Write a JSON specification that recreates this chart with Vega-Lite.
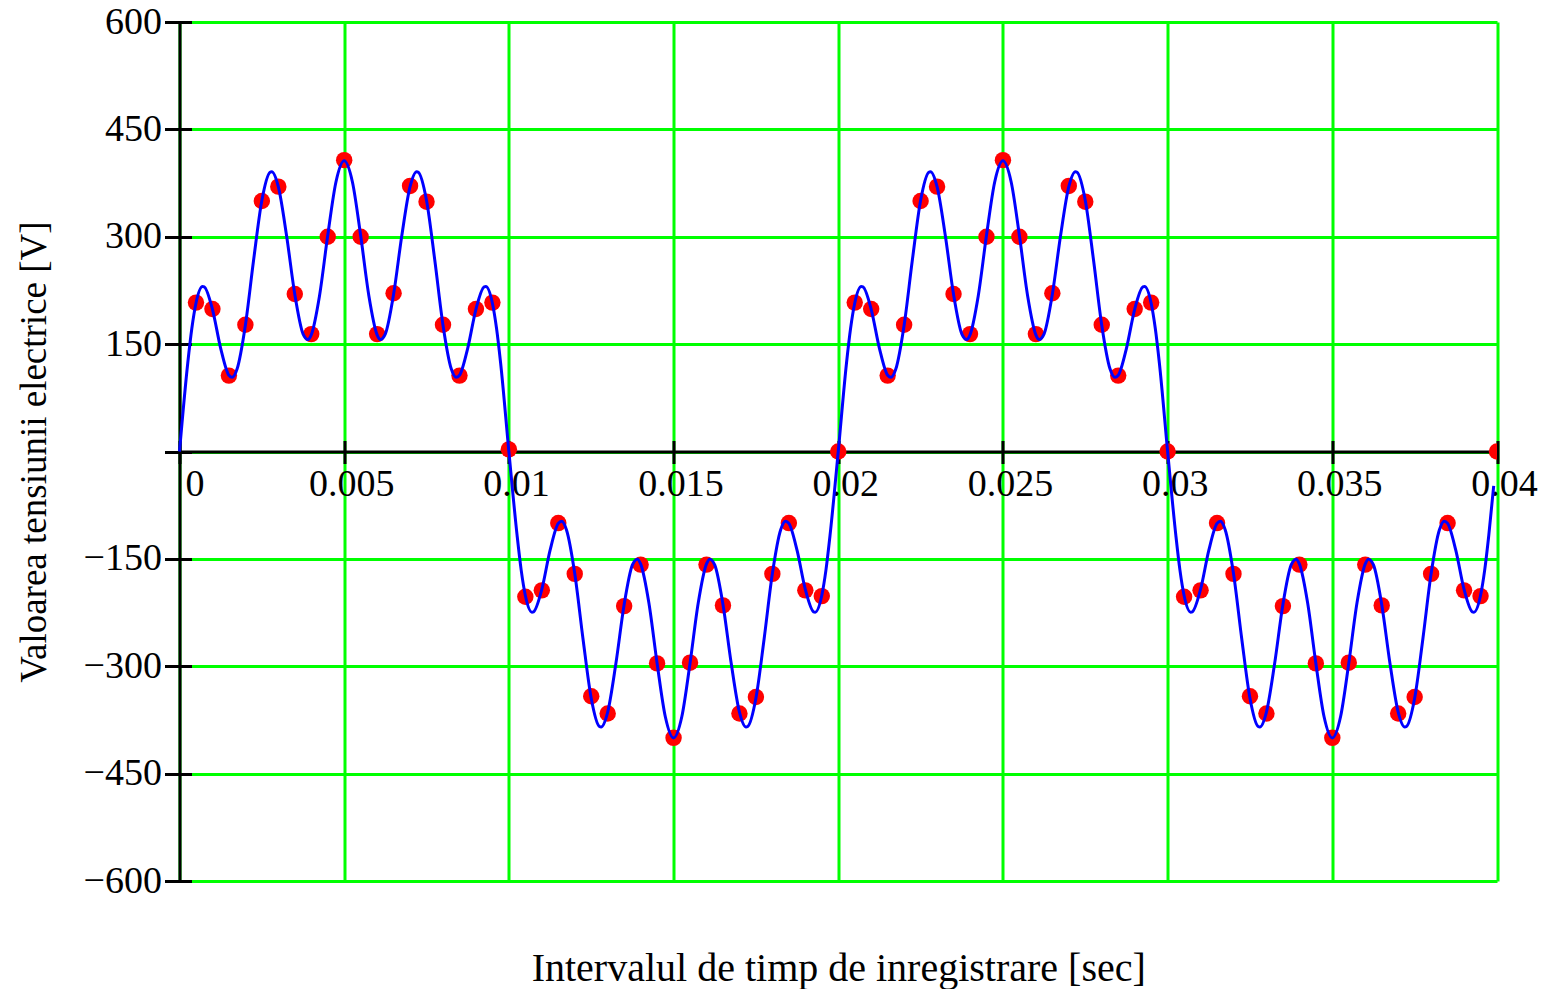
{
  "$schema": "https://vega.github.io/schema/vega-lite/v6.json",
  "autosize": {"type": "none"},
  "width": 1317.5,
  "height": 859,
  "padding": {"left": 179.5, "top": 22, "right": 53, "bottom": 108},
  "background": "white",
  "config": {
    "view": {"stroke": null},
    "axis": {
      "labelFont": "Liberation Serif",
      "titleFont": "Liberation Serif",
      "labelColor": "black",
      "titleColor": "black",
      "titleFontWeight": "normal",
      "domainColor": "black",
      "tickColor": "black",
      "gridColor": "#00FF00"
    }
  },
  "datasets": {
    "samples": [
      {"t":0.0005,"u":208},{"t":0.001,"u":199},{"t":0.0015,"u":106},{"t":0.002,"u":177},{"t":0.0025,"u":350},
      {"t":0.003,"u":370},{"t":0.0035,"u":220},{"t":0.004,"u":164},{"t":0.0045,"u":300},{"t":0.005,"u":407},
      {"t":0.0055,"u":300},{"t":0.006,"u":164},{"t":0.0065,"u":221},{"t":0.007,"u":371},{"t":0.0075,"u":349},
      {"t":0.008,"u":177},{"t":0.0085,"u":106},{"t":0.009,"u":199},{"t":0.0095,"u":208},{"t":0.01,"u":3},
      {"t":0.0105,"u":-203},{"t":0.011,"u":-194},{"t":0.0115,"u":-100},{"t":0.012,"u":-171},{"t":0.0125,"u":-342},
      {"t":0.013,"u":-366},{"t":0.0135,"u":-216},{"t":0.014,"u":-158},{"t":0.0145,"u":-296},{"t":0.015,"u":-400},
      {"t":0.0155,"u":-295},{"t":0.016,"u":-158},{"t":0.0165,"u":-215},{"t":0.017,"u":-366},{"t":0.0175,"u":-343},
      {"t":0.018,"u":-171},{"t":0.0185,"u":-100},{"t":0.019,"u":-194},{"t":0.0195,"u":-202},{"t":0.02,"u":0},
      {"t":0.0205,"u":208},{"t":0.021,"u":199},{"t":0.0215,"u":106},{"t":0.022,"u":177},{"t":0.0225,"u":350},
      {"t":0.023,"u":370},{"t":0.0235,"u":220},{"t":0.024,"u":164},{"t":0.0245,"u":300},{"t":0.025,"u":407},
      {"t":0.0255,"u":300},{"t":0.026,"u":164},{"t":0.0265,"u":221},{"t":0.027,"u":371},{"t":0.0275,"u":349},
      {"t":0.028,"u":177},{"t":0.0285,"u":106},{"t":0.029,"u":199},{"t":0.0295,"u":208},{"t":0.03,"u":0},
      {"t":0.0305,"u":-203},{"t":0.031,"u":-194},{"t":0.0315,"u":-100},{"t":0.032,"u":-171},{"t":0.0325,"u":-342},
      {"t":0.033,"u":-366},{"t":0.0335,"u":-216},{"t":0.034,"u":-158},{"t":0.0345,"u":-296},{"t":0.035,"u":-400},
      {"t":0.0355,"u":-295},{"t":0.036,"u":-158},{"t":0.0365,"u":-215},{"t":0.037,"u":-366},{"t":0.0375,"u":-343},
      {"t":0.038,"u":-171},{"t":0.0385,"u":-100},{"t":0.039,"u":-194},{"t":0.0395,"u":-202},{"t":0.04,"u":0}
    ],
    "curve": [
      {"t":0,"u":0},{"t":0.00025,"u":123.3},{"t":0.000375,"u":172.1},{"t":0.0005,"u":207.1},{"t":0.0007,"u":230.4},
      {"t":0.00075,"u":229.9},{"t":0.001,"u":198.7},{"t":0.00125,"u":144.2},{"t":0.0015,"u":106.5},{"t":0.0016,"u":103.6},
      {"t":0.00175,"u":115.6},{"t":0.002,"u":176.5},{"t":0.00225,"u":267.5},{"t":0.0025,"u":350.7},{"t":0.00275,"u":390.2},
      {"t":0.0028,"u":390.9},{"t":0.003,"u":370.0},{"t":0.00325,"u":301.8},{"t":0.0035,"u":219.7},{"t":0.00375,"u":164.4},
      {"t":0.0039,"u":156.4},{"t":0.004,"u":163.0},{"t":0.00425,"u":217.3},{"t":0.0045,"u":301.7},{"t":0.00475,"u":376.5},
      {"t":0.005,"u":406.1},{"t":0.00525,"u":376.5},{"t":0.0055,"u":301.7},{"t":0.00575,"u":217.3},{"t":0.006,"u":163.0},
      {"t":0.0061,"u":156.4},{"t":0.00625,"u":164.4},{"t":0.0065,"u":219.7},{"t":0.00675,"u":301.8},{"t":0.007,"u":370.0},
      {"t":0.0072,"u":390.9},{"t":0.00725,"u":390.2},{"t":0.0075,"u":350.7},{"t":0.00775,"u":267.5},{"t":0.008,"u":176.5},
      {"t":0.00825,"u":115.6},{"t":0.0084,"u":103.6},{"t":0.0085,"u":106.5},{"t":0.00875,"u":144.2},{"t":0.009,"u":198.7},
      {"t":0.00925,"u":229.9},{"t":0.0093,"u":230.4},{"t":0.0095,"u":207.1},{"t":0.009625,"u":172.1},{"t":0.00975,"u":123.3},
      {"t":0.01,"u":0},
      {"t":0.01025,"u":-117.3},{"t":0.010375,"u":-166.1},{"t":0.0105,"u":-201.1},{"t":0.0107,"u":-224.4},{"t":0.01075,"u":-223.9},
      {"t":0.011,"u":-192.7},{"t":0.01125,"u":-138.2},{"t":0.0115,"u":-100.5},{"t":0.0116,"u":-97.6},{"t":0.01175,"u":-109.6},
      {"t":0.012,"u":-170.5},{"t":0.01225,"u":-261.5},{"t":0.0125,"u":-344.7},{"t":0.01275,"u":-384.2},{"t":0.0128,"u":-384.9},
      {"t":0.013,"u":-364.0},{"t":0.01325,"u":-295.8},{"t":0.0135,"u":-213.7},{"t":0.01375,"u":-158.4},{"t":0.0139,"u":-150.4},
      {"t":0.014,"u":-157.0},{"t":0.01425,"u":-211.3},{"t":0.0145,"u":-295.7},{"t":0.01475,"u":-370.5},{"t":0.015,"u":-400.1},
      {"t":0.01525,"u":-370.5},{"t":0.0155,"u":-295.7},{"t":0.01575,"u":-211.3},{"t":0.016,"u":-157.0},{"t":0.0161,"u":-150.4},
      {"t":0.01625,"u":-158.4},{"t":0.0165,"u":-213.7},{"t":0.01675,"u":-295.8},{"t":0.017,"u":-364.0},{"t":0.0172,"u":-384.9},
      {"t":0.01725,"u":-384.2},{"t":0.0175,"u":-344.7},{"t":0.01775,"u":-261.5},{"t":0.018,"u":-170.5},{"t":0.01825,"u":-109.6},
      {"t":0.0184,"u":-97.6},{"t":0.0185,"u":-100.5},{"t":0.01875,"u":-138.2},{"t":0.019,"u":-192.7},{"t":0.01925,"u":-223.9},
      {"t":0.0193,"u":-224.4},{"t":0.0195,"u":-201.1},{"t":0.019625,"u":-166.1},{"t":0.01975,"u":-117.3},{"t":0.02,"u":0},
      {"t":0.02025,"u":123.3},{"t":0.020375,"u":172.1},{"t":0.0205,"u":207.1},{"t":0.0207,"u":230.4},
      {"t":0.02075,"u":229.9},{"t":0.021,"u":198.7},{"t":0.02125,"u":144.2},{"t":0.0215,"u":106.5},{"t":0.0216,"u":103.6},
      {"t":0.02175,"u":115.6},{"t":0.022,"u":176.5},{"t":0.02225,"u":267.5},{"t":0.0225,"u":350.7},{"t":0.02275,"u":390.2},
      {"t":0.0228,"u":390.9},{"t":0.023,"u":370.0},{"t":0.02325,"u":301.8},{"t":0.0235,"u":219.7},{"t":0.02375,"u":164.4},
      {"t":0.0239,"u":156.4},{"t":0.024,"u":163.0},{"t":0.02425,"u":217.3},{"t":0.0245,"u":301.7},{"t":0.02475,"u":376.5},
      {"t":0.025,"u":406.1},{"t":0.02525,"u":376.5},{"t":0.0255,"u":301.7},{"t":0.02575,"u":217.3},{"t":0.026,"u":163.0},
      {"t":0.0261,"u":156.4},{"t":0.02625,"u":164.4},{"t":0.0265,"u":219.7},{"t":0.02675,"u":301.8},{"t":0.027,"u":370.0},
      {"t":0.0272,"u":390.9},{"t":0.02725,"u":390.2},{"t":0.0275,"u":350.7},{"t":0.02775,"u":267.5},{"t":0.028,"u":176.5},
      {"t":0.02825,"u":115.6},{"t":0.0284,"u":103.6},{"t":0.0285,"u":106.5},{"t":0.02875,"u":144.2},{"t":0.029,"u":198.7},
      {"t":0.02925,"u":229.9},{"t":0.0293,"u":230.4},{"t":0.0295,"u":207.1},{"t":0.029625,"u":172.1},{"t":0.02975,"u":123.3},
      {"t":0.03,"u":0},
      {"t":0.03025,"u":-117.3},{"t":0.030375,"u":-166.1},{"t":0.0305,"u":-201.1},{"t":0.0307,"u":-224.4},{"t":0.03075,"u":-223.9},
      {"t":0.031,"u":-192.7},{"t":0.03125,"u":-138.2},{"t":0.0315,"u":-100.5},{"t":0.0316,"u":-97.6},{"t":0.03175,"u":-109.6},
      {"t":0.032,"u":-170.5},{"t":0.03225,"u":-261.5},{"t":0.0325,"u":-344.7},{"t":0.03275,"u":-384.2},{"t":0.0328,"u":-384.9},
      {"t":0.033,"u":-364.0},{"t":0.03325,"u":-295.8},{"t":0.0335,"u":-213.7},{"t":0.03375,"u":-158.4},{"t":0.0339,"u":-150.4},
      {"t":0.034,"u":-157.0},{"t":0.03425,"u":-211.3},{"t":0.0345,"u":-295.7},{"t":0.03475,"u":-370.5},{"t":0.035,"u":-400.1},
      {"t":0.03525,"u":-370.5},{"t":0.0355,"u":-295.7},{"t":0.03575,"u":-211.3},{"t":0.036,"u":-157.0},{"t":0.0361,"u":-150.4},
      {"t":0.03625,"u":-158.4},{"t":0.0365,"u":-213.7},{"t":0.03675,"u":-295.8},{"t":0.037,"u":-364.0},{"t":0.0372,"u":-384.9},
      {"t":0.03725,"u":-384.2},{"t":0.0375,"u":-344.7},{"t":0.03775,"u":-261.5},{"t":0.038,"u":-170.5},{"t":0.03825,"u":-109.6},
      {"t":0.0384,"u":-97.6},{"t":0.0385,"u":-100.5},{"t":0.03875,"u":-138.2},{"t":0.039,"u":-192.7},{"t":0.03925,"u":-223.9},
      {"t":0.0393,"u":-224.4},{"t":0.0395,"u":-201.1},{"t":0.039625,"u":-166.1},{"t":0.03975,"u":-117.3},{"t":0.0399,"u":-48}
    ]
  },
  "layer": [
    {
      "data": {"name": "samples"},
      "mark": {"type": "point", "filled": true, "shape": "circle", "size": 270, "color": "#FF0000", "opacity": 1, "clip": true},
      "encoding": {
        "x": {
          "field": "t", "type": "quantitative",
          "scale": {"domain": [0, 0.04], "nice": false, "zero": false},
          "axis": {
            "orient": "bottom",
            "offset": -429.5,
            "values": [0, 0.005, 0.01, 0.015, 0.02, 0.025, 0.03, 0.035, 0.04],
            "labelExpr": "'' + datum.value",
            "labelFontSize": 38,
            "labelPadding": 2,
            "labelFlush": false,
            "labelOverlap": false,
            "labelOffset": {"condition": {"test": "datum.value == 0", "value": 15}, "value": 7},
            "tickSize": 12,
            "tickWidth": 3,
            "domainWidth": 3,
            "grid": true,
            "gridWidth": 3,
            "title": "Intervalul de timp de inregistrare [sec]",
            "titleFontSize": 40,
            "titleX": 658.75,
            "titleY": 529,
            "titleBaseline": "alphabetic",
            "titleAlign": "center"
          }
        },
        "y": {
          "field": "u", "type": "quantitative",
          "scale": {"domain": [-600, 600], "nice": false, "zero": false},
          "axis": {
            "orient": "left",
            "values": [-600, -450, -300, -150, 0, 150, 300, 450, 600],
            "labelExpr": "datum.value == 0 ? '' : (datum.value < 0 ? '\u2212' + abs(datum.value) : '' + datum.value)",
            "labelFontSize": 38,
            "labelPadding": 3,
            "labelOverlap": false,
            "tickSize": 15,
            "tickWidth": 3,
            "domainWidth": 3,
            "grid": true,
            "gridWidth": 3,
            "title": "Valoarea tensiunii electrice [V]",
            "titleFontSize": 37,
            "titleAngle": -90,
            "titleX": -134,
            "titleY": 429.5,
            "titleBaseline": "alphabetic",
            "titleAlign": "center"
          }
        }
      }
    },
    {
      "data": {"name": "curve"},
      "mark": {"type": "line", "color": "#0000FF", "strokeWidth": 3, "interpolate": "monotone"},
      "encoding": {
        "x": {
          "field": "t", "type": "quantitative",
          "scale": {"domain": [0, 0.04], "nice": false, "zero": false},
          "axis": {
            "orient": "bottom",
            "offset": -429.5,
            "values": [0, 0.005, 0.01, 0.015, 0.02, 0.025, 0.03, 0.035, 0.04],
            "labels": false,
            "domain": false,
            "grid": false,
            "tickSize": -11,
            "tickWidth": 3,
            "title": null
          }
        },
        "y": {
          "field": "u", "type": "quantitative",
          "scale": {"domain": [-600, 600], "nice": false, "zero": false},
          "axis": {
            "orient": "left",
            "values": [-600, -450, -300, -150, 0, 150, 300, 450, 600],
            "labels": false,
            "domain": false,
            "grid": false,
            "tickSize": -12,
            "tickWidth": 3,
            "title": null
          }
        }
      }
    }
  ],
  "resolve": {"axis": {"x": "independent", "y": "independent"}}
}
